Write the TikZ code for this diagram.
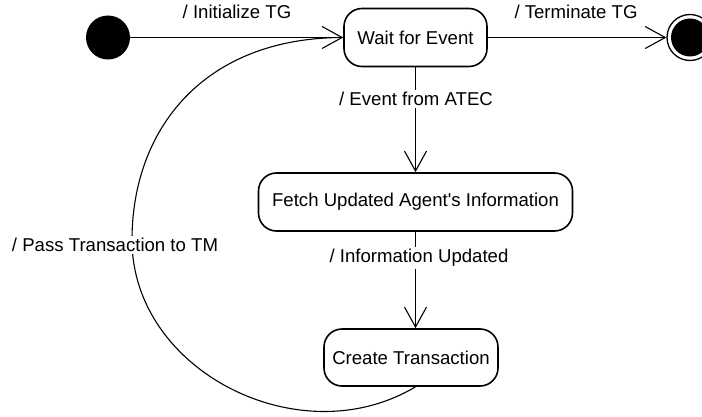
\documentclass[tikz,border=0pt]{standalone}
\usepackage{fontspec}
\setmainfont{Liberation Sans}
\usetikzlibrary{arrows.meta}
\begin{document}
\begin{tikzpicture}[x=1pt,y=1pt,
  every node/.style={font=\fontsize{18.6}{22}\selectfont},
  state/.style={draw, line width=1.6pt, rounded corners=18pt, minimum height=58pt, inner sep=0pt},
  trans/.style={line width=1.1pt, -{Straight Barb[length=20pt,width=22pt,line width=1.1pt]}},
  conn/.style={line width=1.1pt},
  lbl/.style={fill=white, inner sep=2pt}]
\useasboundingbox (0,0) rectangle (702,416);
\node[circle, fill=black, minimum size=44pt, inner sep=0pt] (init) at (108,378.5) {};
\node[state, minimum width=143pt] (wait) at (415.5,378.5) {Wait for Event};
\node[state, minimum width=314pt] (fetch) at (415.5,214) {Fetch Updated Agent\textquotesingle s Information};
\node[state, minimum width=174pt, minimum height=57pt] (create) at (411,58.5) {Create Transaction};
\node[circle, draw, line width=1.3pt, minimum size=46pt, inner sep=0pt] (final) at (690,378.5) {};
\fill (final.center) circle (19pt);
\draw[trans] (init) -- (wait.west);
\draw[trans] (wait.east) -- (final.west);
\draw[trans] (wait.south) -- (fetch.north);
\draw[trans] (fetch.south) -- (fetch.south |- create.north);
\coordinate (cs) at (fetch.south |- create.south);
\coordinate (lm) at (132,176);
\draw[conn] (cs) .. controls (300,-40) and (132,45) .. (lm) .. controls (132,286) and (203,378.5) .. (wait.west);
\node[lbl] (l1) at (237,404) {/ Initialize TG};
\node[lbl] (l2) at (576,404) {/ Terminate TG};
\node[lbl] (l3) at (416,317) {/ Event from ATEC};
\node[lbl] (l4) at (419,158) {/ Information Updated};
\node[lbl] (l5) at (115,171) {/ Pass Transaction to TM};
\end{tikzpicture}
\end{document}
